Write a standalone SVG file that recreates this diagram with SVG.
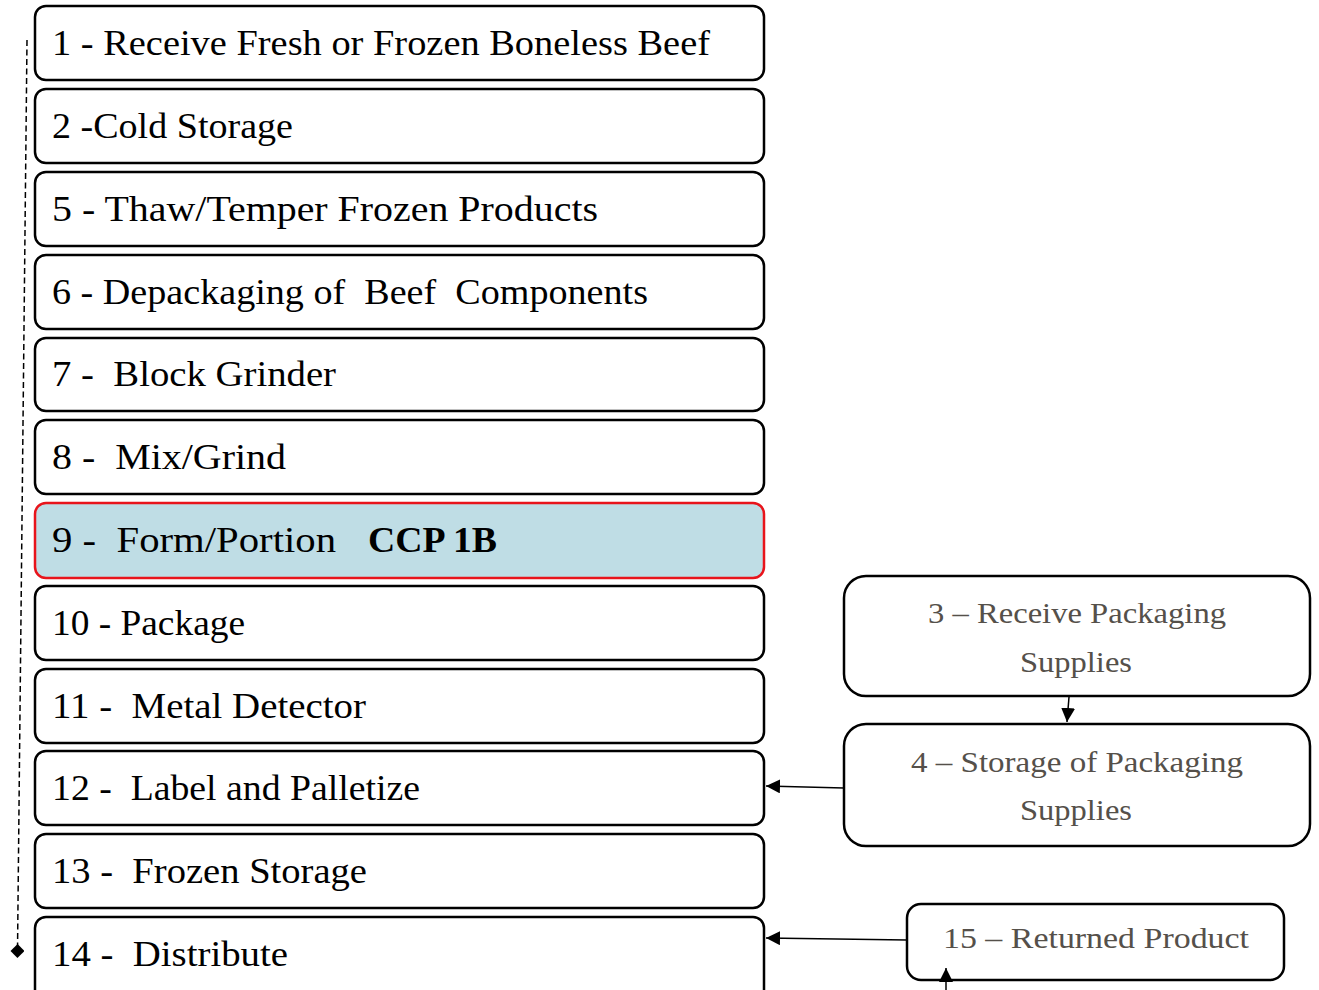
<svg xmlns="http://www.w3.org/2000/svg" width="1319" height="990" viewBox="0 0 1319 990">
<style>
.box{fill:#fff;stroke:#000;stroke-width:2.5}
.ccp{fill:#bfdde5;stroke:#e8141b;stroke-width:2.5}
.t{font-family:"Liberation Serif",serif;font-size:36px;fill:#000;white-space:pre}
.b{font-weight:bold}
.g{font-family:"Liberation Serif",serif;font-size:30px;fill:#55504a;text-anchor:middle}
.c{stroke:#000;stroke-width:1.5;fill:none}
</style>
<defs>
<marker id="ah2" viewBox="0 0 10 10" refX="10" refY="5" markerWidth="14" markerHeight="14" orient="auto" markerUnits="userSpaceOnUse">
<path d="M0,0 L10,5 L0,10 Z" fill="#000"/>
</marker>
<marker id="dm" viewBox="0 0 10 10" refX="5" refY="5" markerWidth="14" markerHeight="14" orient="auto" markerUnits="userSpaceOnUse">
<path d="M5,0 L10,5 L5,10 L0,5 Z" fill="#000"/>
</marker>
</defs>
<g id="n1"><rect class="box" x="35" y="6" width="729" height="74" rx="11"/><text class="t" x="52" y="55" textLength="658" lengthAdjust="spacingAndGlyphs">1 - Receive Fresh or Frozen Boneless Beef</text></g>
<g id="n2"><rect class="box" x="35" y="89" width="729" height="74" rx="11"/><text class="t" x="52" y="138" textLength="241" lengthAdjust="spacingAndGlyphs">2 -Cold Storage</text></g>
<g id="n5"><rect class="box" x="35" y="172" width="729" height="74" rx="11"/><text class="t" x="52" y="221" textLength="546" lengthAdjust="spacingAndGlyphs">5 - Thaw/Temper Frozen Products</text></g>
<g id="n6"><rect class="box" x="35" y="255" width="729" height="74" rx="11"/><text class="t" x="52" y="304" textLength="596" lengthAdjust="spacingAndGlyphs">6 - Depackaging of  Beef  Components</text></g>
<g id="n7"><rect class="box" x="35" y="338" width="729" height="73" rx="11"/><text class="t" x="52" y="386" textLength="284" lengthAdjust="spacingAndGlyphs">7 -  Block Grinder</text></g>
<g id="n8"><rect class="box" x="35" y="420" width="729" height="74" rx="11"/><text class="t" x="52" y="469" textLength="234" lengthAdjust="spacingAndGlyphs">8 -  Mix/Grind</text></g>
<g id="n9"><rect class="ccp" x="35" y="503" width="729" height="75" rx="11"/><text class="t" x="52" y="552" textLength="284" lengthAdjust="spacingAndGlyphs">9 -  Form/Portion</text><text class="t b" x="368" y="552" textLength="129" lengthAdjust="spacingAndGlyphs">CCP 1B</text></g>
<g id="n10"><rect class="box" x="35" y="586" width="729" height="74" rx="11"/><text class="t" x="52" y="635" textLength="193" lengthAdjust="spacingAndGlyphs">10 - Package</text></g>
<g id="n11"><rect class="box" x="35" y="669" width="729" height="74" rx="11"/><text class="t" x="52" y="718" textLength="314" lengthAdjust="spacingAndGlyphs">11 -  Metal Detector</text></g>
<g id="n12"><rect class="box" x="35" y="751" width="729" height="74" rx="11"/><text class="t" x="52" y="800" textLength="368" lengthAdjust="spacingAndGlyphs">12 -  Label and Palletize</text></g>
<g id="n13"><rect class="box" x="35" y="834" width="729" height="74" rx="11"/><text class="t" x="52" y="883" textLength="315" lengthAdjust="spacingAndGlyphs">13 -  Frozen Storage</text></g>
<g id="n14"><rect class="box" x="35" y="917" width="729" height="90" rx="11"/><text class="t" x="52" y="966" textLength="236" lengthAdjust="spacingAndGlyphs">14 -  Distribute</text></g>
<g id="n3"><rect class="box" x="844" y="576" width="466" height="120" rx="22"/><text class="g" x="1077" y="623" textLength="298" lengthAdjust="spacingAndGlyphs">3 – Receive Packaging</text><text class="g" x="1076" y="672" textLength="112" lengthAdjust="spacingAndGlyphs">Supplies</text></g>
<g id="n4"><rect class="box" x="844" y="724" width="466" height="122" rx="22"/><text class="g" x="1077" y="772" textLength="332" lengthAdjust="spacingAndGlyphs">4 – Storage of Packaging</text><text class="g" x="1076" y="820" textLength="112" lengthAdjust="spacingAndGlyphs">Supplies</text></g>
<g id="n15"><rect class="box" x="907" y="904" width="377" height="76" rx="14"/><text class="g" x="1096" y="948" textLength="306" lengthAdjust="spacingAndGlyphs">15 – Returned Product</text></g>
<g id="connectors">
<line class="c" x1="27" y1="40" x2="17.5" y2="951" stroke-width="1.8" stroke-dasharray="6,3.5" marker-end="url(#dm)"/>
<line class="c" x1="1069" y1="697" x2="1067" y2="722" marker-end="url(#ah2)"/>
<line class="c" x1="844" y1="788" x2="766" y2="786" marker-end="url(#ah2)"/>
<line class="c" x1="907" y1="940" x2="766" y2="938" marker-end="url(#ah2)"/>
<line class="c" x1="946" y1="990" x2="946" y2="968" marker-end="url(#ah2)"/>
</g>
</svg>
